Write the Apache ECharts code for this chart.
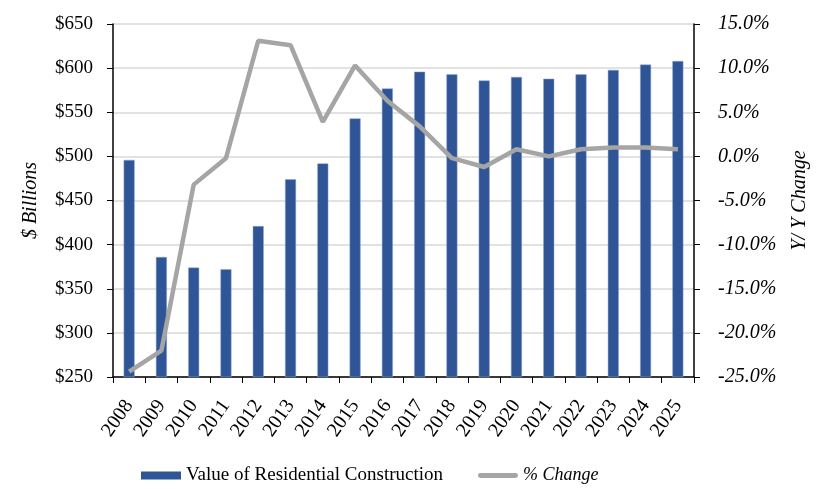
<!DOCTYPE html>
<html lang="en">
<head>
    <meta charset="UTF-8">
    <title>Residential Construction</title>
    <script src="https://cdn.jsdelivr.net/npm/echarts@6/dist/echarts.min.js"></script>
    <style>
        html, body { margin: 0; padding: 0; background: #fff; }
        #main { width: 818px; height: 489px; }
    </style>
</head>
<body>
<div id="main"></div>
<script>
    var years = ['2008', '2009', '2010', '2011', '2012', '2013', '2014', '2015', '2016',
        '2017', '2018', '2019', '2020', '2021', '2022', '2023', '2024', '2025'];
    // $ billions
    var constructionValue = [496, 386, 374, 372, 421, 474, 492, 543, 577,
        596, 593, 586, 590, 588, 593, 598, 604, 608];
    // year over year change, %
    var pctChange = [-24.4, -22.0, -3.2, -0.2, 13.1, 12.6, 3.9, 10.3, 6.3,
        3.4, -0.2, -1.2, 0.8, 0.0, 0.8, 1.0, 1.0, 0.8];

    var serif = '"Liberation Serif", "DejaVu Serif", serif';

    var myChart = echarts.init(document.getElementById('main'));
    var option = {
        animation: false,
        textStyle: { fontFamily: serif, color: '#000' },
        grid: { left: 113, right: 122, top: 24, bottom: 112, containLabel: false },
        legend: {
            bottom: -1,
            left: 136,
            itemWidth: 40,
            itemHeight: 8,
            itemGap: 35,
            symbolKeepAspect: true,
            textStyle: { fontFamily: serif, fontSize: 19, color: '#000' },
            data: [
                { name: 'Value of Residential Construction', icon: 'rect', itemStyle: { borderWidth: 0 } },
                {
                    name: '% Change',
                    icon: 'path://M2,0 L38,0 A2.5,2.5 0 0 1 38,5 L2,5 A2.5,2.5 0 0 1 2,0 Z',
                    itemStyle: { color: '#a5a5a5', borderWidth: 0 },
                    textStyle: { fontStyle: 'italic', fontSize: 18 }
                }
            ]
        },
        xAxis: {
            type: 'category',
            data: years,
            axisLine: { onZero: false, lineStyle: { color: '#000', width: 1.5 } },
            axisTick: { show: true, length: 6, lineStyle: { color: '#000' } },
            axisLabel: { rotate: 55, fontSize: 20, color: '#000', fontFamily: serif, margin: 25 }
        },
        yAxis: [{
            type: 'value',
            min: 250, max: 650, interval: 50,
            name: '$ Billions',
            nameLocation: 'middle',
            nameGap: 72,
            nameTextStyle: { fontSize: 20, fontStyle: 'italic', color: '#000', fontFamily: serif },
            axisLine: { show: true, lineStyle: { color: '#000', width: 1.5 } },
            axisTick: { show: true, length: 6, lineStyle: { color: '#000' } },
            axisLabel: { formatter: '${value}', fontSize: 19, color: '#000', fontFamily: serif, margin: 20 },
            splitLine: { lineStyle: { color: '#d9d9d9', width: 1.5 } }
        }, {
            type: 'value',
            min: -25, max: 15, interval: 5,
            name: 'Y/ Y Change',
            nameLocation: 'middle',
            nameGap: 96,
            nameTextStyle: { fontSize: 20, fontStyle: 'italic', color: '#000', fontFamily: serif },
            axisLine: { show: true, lineStyle: { color: '#000', width: 1.5 } },
            axisTick: { show: true, length: 6, lineStyle: { color: '#000' } },
            axisLabel: {
                formatter: function (v) { return v.toFixed(1) + '%'; },
                fontSize: 20, fontStyle: 'italic', color: '#000', fontFamily: serif, margin: 24
            },
            splitLine: { show: false }
        }],
        series: [{
            name: 'Value of Residential Construction',
            type: 'bar',
            data: constructionValue,
            barWidth: 11,
            itemStyle: { color: '#2f5597', borderColor: '#8fa9d6', borderWidth: 0.5 }
        }, {
            name: '% Change',
            type: 'line',
            yAxisIndex: 1,
            data: pctChange,
            symbol: 'none',
            lineStyle: { color: '#a5a5a5', width: 4.5 },
            itemStyle: { color: '#a5a5a5' }
        }]
    };
    myChart.setOption(option);
</script>
</body>
</html>
